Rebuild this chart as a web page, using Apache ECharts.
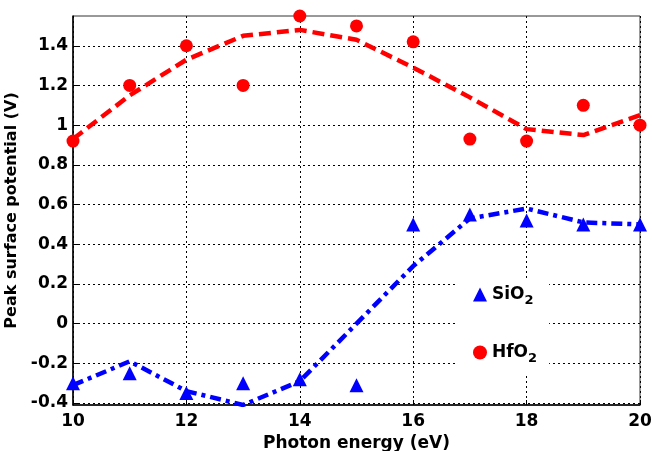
<!DOCTYPE html>
<html>
<head>
<meta charset="utf-8">
<script src="https://cdn.jsdelivr.net/npm/echarts@6/dist/echarts.min.js"></script>
<style>
  html, body { margin: 0; padding: 0; background: #fff; }
  #chart { width: 652px; height: 451px; }
</style>
</head>
<body>
<div id="chart"></div>
<script>
// photon energy (eV)
const energies = [10, 11, 12, 13, 14, 15, 16, 17, 18, 19, 20];

// measured points
const hfo2Points = [0.92, 1.2, 1.4, 1.2, 1.55, 1.5, 1.42, 0.93, 0.92, 1.1, 1.0];
const sio2Points = [-0.30, -0.25, -0.35, -0.30, -0.28, -0.31, 0.50, 0.55, 0.52, 0.50, 0.50];

// fitted trend lines
const hfo2Fit = [0.93, 1.15, 1.33, 1.45, 1.48, 1.43, 1.29, 1.14, 0.98, 0.95, 1.05];
const sio2Fit = [-0.31, -0.19, -0.34, -0.41, -0.29, 0.0, 0.29, 0.53, 0.58, 0.51, 0.50];

const yTicks = [-0.4, -0.2, 0, 0.2, 0.4, 0.6, 0.8, 1, 1.2, 1.4];

const FONT = '"DejaVu Sans", Arial, sans-serif';

const pairs = (xs, ys) => xs.map((x, i) => [x, ys[i]]);

const chart = echarts.init(document.getElementById("chart"), null, { renderer: "canvas" });

const gridDash = { color: "#000", type: [2, 3], width: 1 };
const labelStyle = { fontSize: 17, fontWeight: "bold", color: "#000", fontFamily: FONT };

chart.setOption({
  backgroundColor: "#fff",
  animation: false,
  textStyle: { fontFamily: FONT },
  grid: {
    left: 73, right: 12, top: 16, bottom: 46,
    outerBoundsMode: "none",
    show: true, borderColor: "#333", borderWidth: 1, backgroundColor: "transparent"
  },
  legend: {
    data: ["SiO2", "HfO2"],
    orient: "vertical",
    left: 456,
    top: 278,
    itemGap: 37,
    itemWidth: 14,
    itemHeight: 14,
    padding: [8, 12, 8, 17],
    backgroundColor: "#fff",
    formatter: (name) => "{m|" + name.slice(0, -1) + "}{s|" + name.slice(-1) + "}",
    textStyle: {
      fontFamily: FONT,
      rich: {
        m: { fontSize: 17, fontWeight: "bold", color: "#000", fontFamily: FONT },
        s: { fontSize: 13, fontWeight: "bold", color: "#000", fontFamily: FONT, padding: [12, 0, 0, 0] }
      }
    }
  },
  xAxis: {
    type: "value",
    min: 10, max: 20, interval: 2,
    name: "Photon energy (eV)",
    nameLocation: "middle",
    nameGap: 28,
    nameTextStyle: labelStyle,
    axisLine: { onZero: false, lineStyle: { color: "#000", width: 1.5 } },
    axisTick: { inside: true, length: 5, lineStyle: { color: "#000" } },
    axisLabel: { ...labelStyle, margin: 8 },
    splitLine: { show: true, lineStyle: gridDash }
  },
  yAxis: {
    type: "value",
    min: -0.41, max: 1.55,
    name: "Peak surface potential (V)",
    nameLocation: "middle",
    nameGap: 51,
    nameTextStyle: { ...labelStyle, fontSize: 16 },
    axisLine: { show: true, onZero: false, lineStyle: { color: "#000", width: 1.5 } },
    axisTick: { inside: true, length: 5, lineStyle: { color: "#000" }, customValues: yTicks },
    axisLabel: {
      ...labelStyle, margin: 5,
      customValues: yTicks,
      formatter: (v) => String(Math.round(v * 10) / 10)
    },
    splitLine: { show: true, lineStyle: gridDash }
  },
  series: [
    {
      name: "HfO2 fit",
      type: "line",
      data: pairs(energies, hfo2Fit),
      showSymbol: false,
      z: 2,
      lineStyle: { color: "#ff0000", width: 4.5, type: [12, 6] }
    },
    {
      name: "SiO2 fit",
      type: "line",
      data: pairs(energies, sio2Fit),
      showSymbol: false,
      z: 2,
      lineStyle: { color: "#0000ff", width: 4.5, type: [11, 5, 4, 5] }
    },
    {
      name: "SiO2",
      type: "scatter",
      data: pairs(energies, sio2Points),
      symbol: "triangle",
      symbolSize: 14,
      z: 3,
      itemStyle: { color: "#0000ff", opacity: 1 }
    },
    {
      name: "HfO2",
      type: "scatter",
      data: pairs(energies, hfo2Points),
      symbol: "circle",
      symbolSize: 13,
      z: 3,
      itemStyle: { color: "#ff0000", opacity: 1 }
    }
  ]
});
</script>
</body>
</html>
